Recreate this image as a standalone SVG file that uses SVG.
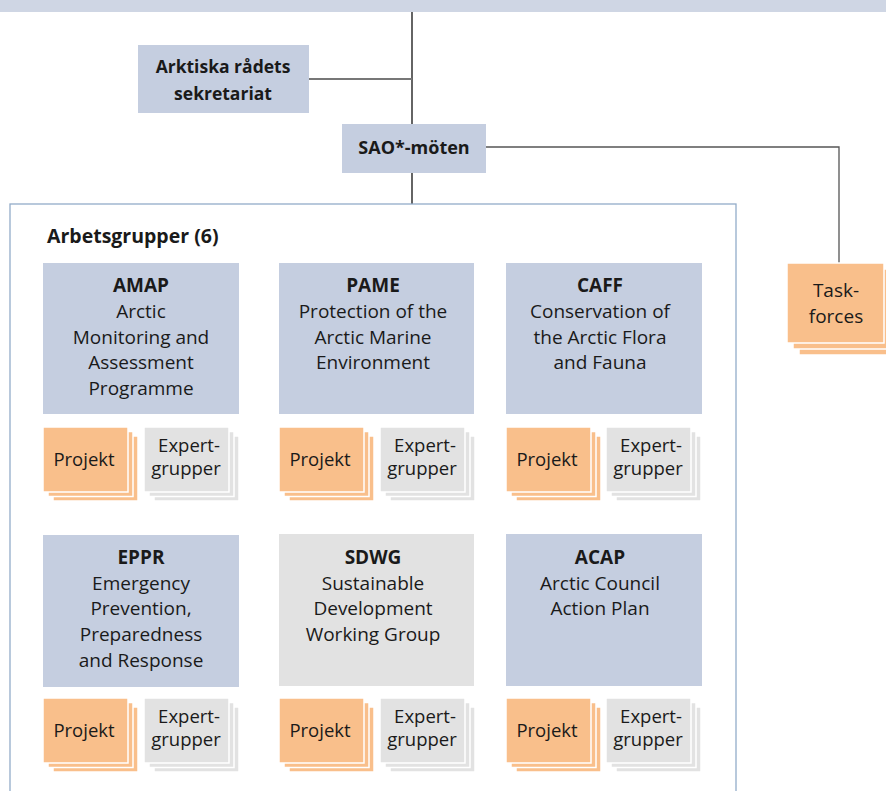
<svg xmlns="http://www.w3.org/2000/svg" width="886" height="791" viewBox="0 0 886 791">
<style>
text{font-family:"Open Sans","Noto Sans","Liberation Sans",sans-serif;fill:#1a1a1a;text-anchor:middle;font-size:19px}
.b{font-weight:bold}
.s{font-size:18.5px}
.blue{fill:#c5cee0}
.grey{fill:#e2e2e2}
.or{fill:#f9bf8b;stroke:#fff;stroke-width:1.5}
.ex{fill:#e2e2e2;stroke:#fff;stroke-width:1.5}
</style>
<defs>
<g id="proj">
<rect class="or" x="10" y="9" width="85" height="65"/>
<rect class="or" x="5" y="4.5" width="85" height="65"/>
<rect class="or" x="0" y="0" width="85" height="65"/>
<text class="s" x="41" y="39">Projekt</text>
</g>
<g id="exp">
<rect class="ex" x="10" y="9" width="85" height="65"/>
<rect class="ex" x="5" y="4.5" width="85" height="65"/>
<rect class="ex" x="0" y="0" width="85" height="65"/>
<text class="s" x="45" y="25">Expert-</text>
<text class="s" x="42" y="48">grupper</text>
</g>
</defs>
<rect x="0" y="0" width="886" height="12" fill="#cfd6e4"/>
<g id="connectors" fill="none">
<line x1="412" y1="12" x2="412" y2="204" stroke="#111" stroke-width="1.3"/>
<line x1="309" y1="79" x2="412" y2="79" stroke="#777" stroke-width="1.8"/>
<polyline points="486,147 839,147 839,263" stroke="#555" stroke-width="1.3"/>
</g>
<rect id="frame" x="10" y="204" width="726" height="600" fill="none" stroke="#93acc9" stroke-width="1.3"/>
<g id="sekretariat">
<rect class="blue" x="138" y="45" width="171" height="68"/>
<text class="b" x="223" y="73" style="font-size:17.5px">Arktiska rådets</text>
<text class="b" x="223" y="100" style="font-size:17.5px">sekretariat</text>
</g>
<g id="sao">
<rect class="blue" x="342" y="124" width="144" height="49"/>
<text class="b" x="414" y="154" style="font-size:18px">SAO*-möten</text>
</g>
<g id="taskforces">
<rect class="or" x="799" y="275" width="97" height="80"/>
<rect class="or" x="793" y="269" width="97" height="80"/>
<rect class="or" x="787" y="263" width="97" height="80"/>
<text x="836" y="297">Task-</text>
<text x="836" y="323">forces</text>
</g>
<text class="b" x="47" y="243" style="text-anchor:start;font-size:19.5px">Arbetsgrupper (6)</text>
<g id="amap">
<rect class="blue" x="43" y="263" width="196" height="151"/>
<text class="b" x="141" y="292">AMAP</text>
<text x="141" y="318">Arctic</text>
<text x="141" y="344">Monitoring and</text>
<text x="141" y="369">Assessment</text>
<text x="141" y="395">Programme</text>
</g>
<g id="pame">
<rect class="blue" x="279" y="263" width="195" height="151"/>
<text class="b" x="373" y="292">PAME</text>
<text x="373" y="318">Protection of the</text>
<text x="373" y="344">Arctic Marine</text>
<text x="373" y="369">Environment</text>
</g>
<g id="caff">
<rect class="blue" x="506" y="263" width="196" height="151"/>
<text class="b" x="600" y="292">CAFF</text>
<text x="600" y="318">Conservation of</text>
<text x="600" y="344">the Arctic Flora</text>
<text x="600" y="369">and Fauna</text>
</g>
<g id="eppr">
<rect class="blue" x="43" y="535" width="196" height="152"/>
<text class="b" x="141" y="564">EPPR</text>
<text x="141" y="590">Emergency</text>
<text x="141" y="615">Prevention,</text>
<text x="141" y="641">Preparedness</text>
<text x="141" y="667">and Response</text>
</g>
<g id="sdwg">
<rect class="grey" x="279" y="534" width="195" height="152"/>
<text class="b" x="373" y="564">SDWG</text>
<text x="373" y="590">Sustainable</text>
<text x="373" y="615">Development</text>
<text x="373" y="641">Working Group</text>
</g>
<g id="acap">
<rect class="blue" x="506" y="534" width="196" height="152"/>
<text class="b" x="600" y="564">ACAP</text>
<text x="600" y="590">Arctic Council</text>
<text x="600" y="615">Action Plan</text>
</g>
<g id="amap-projekt"><use href="#proj" x="43" y="427"/></g>
<g id="amap-expert"><use href="#exp" x="144" y="427"/></g>
<g id="pame-projekt"><use href="#proj" x="279" y="427"/></g>
<g id="pame-expert"><use href="#exp" x="380" y="427"/></g>
<g id="caff-projekt"><use href="#proj" x="506" y="427"/></g>
<g id="caff-expert"><use href="#exp" x="606" y="427"/></g>
<g id="eppr-projekt"><use href="#proj" x="43" y="698"/></g>
<g id="eppr-expert"><use href="#exp" x="144" y="698"/></g>
<g id="sdwg-projekt"><use href="#proj" x="279" y="698"/></g>
<g id="sdwg-expert"><use href="#exp" x="380" y="698"/></g>
<g id="acap-projekt"><use href="#proj" x="506" y="698"/></g>
<g id="acap-expert"><use href="#exp" x="606" y="698"/></g>
</svg>
